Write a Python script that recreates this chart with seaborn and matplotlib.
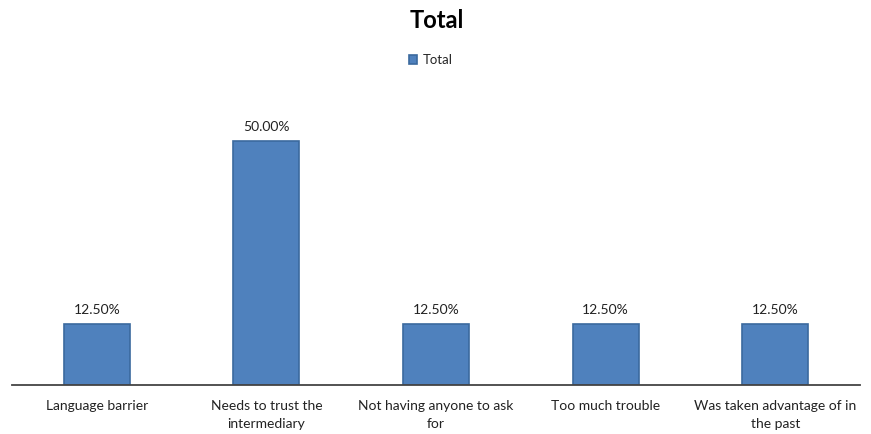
import textwrap
import pandas as pd
import matplotlib
matplotlib.use('Agg')
import matplotlib.pyplot as plt
import seaborn as sns

# данные
categories = ['Language barrier', 'Needs to trust the intermediary',
              'Not having anyone to ask for', 'Too much trouble',
              'Was taken advantage of in the past']
values = [12.5, 50.0, 12.5, 12.5, 12.5]
series_name = 'Total'

df = pd.DataFrame({'cat': categories, 'val': values})

sns.set_theme(style='white')
plt.rcParams['font.family'] = ['Lato', 'DejaVu Sans']

W, H = 871, 434
fig = plt.figure(figsize=(W / 100, H / 100), dpi=100)
ax = fig.add_axes([12 / W, (H - 385) / H, (860 - 12) / W, (385 - 92) / H])

sns.barplot(data=df, x='cat', y='val', ax=ax, color='#4F81BD', width=0.39,
            edgecolor='#3B6A9E', linewidth=1.2, saturation=1, label=series_name)

for c in ax.containers:
    ax.bar_label(c, fmt='%.2f%%', padding=6, fontsize=10, color='#222222')

ax.set_xlim(-0.5, len(categories) - 0.5)
ax.set_ylim(0, 60)
ax.set_yticks([])
ax.set_xlabel('')
ax.set_ylabel('')
ax.set_xticks(range(len(categories)))
ax.set_xticklabels([textwrap.fill(c, 25) for c in categories], fontsize=10,
                   color='#222222')
for t in ax.get_xticklabels():
    t.set_linespacing(1.6)
ax.tick_params(axis='x', length=0, pad=11)
for s in ['top', 'left', 'right']:
    ax.spines[s].set_visible(False)
ax.spines['bottom'].set_color('#444444')
ax.spines['bottom'].set_linewidth(1.3)

if ax.legend_:
    ax.legend_.remove()
handles, labels = ax.get_legend_handles_labels()
fig.legend(handles[:1], labels[:1], loc='center', bbox_to_anchor=(431 / W, 1 - 60 / H),
           frameon=False, fontsize=9.5, handlelength=0.6, handleheight=0.6,
           handletextpad=0.4)

fig.text(437 / W, 1 - 20 / H, 'Total', ha='center', va='center',
         fontsize=17, fontweight='bold', color='black')

fig.savefig('out.png', dpi=100)
